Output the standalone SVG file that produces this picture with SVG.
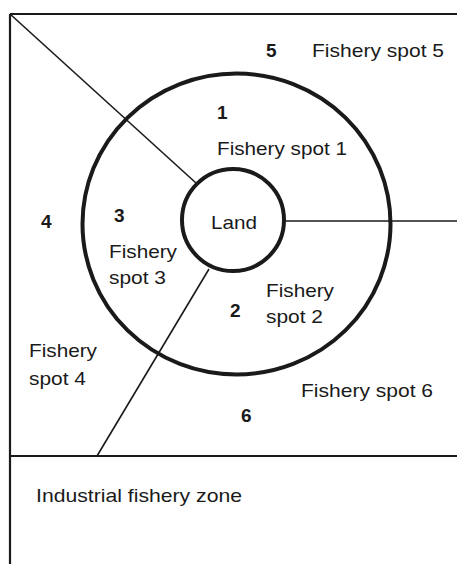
<svg xmlns="http://www.w3.org/2000/svg" width="457" height="564" viewBox="0 0 457 564">
<style>
.frame{fill:none;stroke:#1a1a1a;stroke-width:2.2}
.ring{fill:none;stroke:#1a1a1a;stroke-width:4}
.div{fill:none;stroke:#1a1a1a;stroke-width:1.6}
text{font-family:"Liberation Sans",Arial,sans-serif;font-size:19px;fill:#1a1a1a}
.num{font-weight:bold}
</style>
<rect width="457" height="564" fill="#ffffff"/>
<g id="frame">
<path class="frame" d="M10 14 H457 M10 14 V564 M10 456 H457"/>
</g>
<g id="connectors">
<line class="div" x1="10" y1="14" x2="196" y2="183"/>
<line class="div" x1="284" y1="221" x2="457" y2="221"/>
<line class="div" x1="209" y1="269" x2="97" y2="456"/>
</g>
<g id="outer-ring">
<ellipse class="ring" cx="236.5" cy="224" rx="154" ry="150.5"/>
</g>
<g id="land">
<circle class="ring" cx="233" cy="220" r="51"/>
<text x="211" y="229" textLength="46" lengthAdjust="spacingAndGlyphs">Land</text>
</g>
<g id="spot1">
<text class="num" x="217" y="119">1</text>
<text x="217" y="155" textLength="130" lengthAdjust="spacingAndGlyphs">Fishery spot 1</text>
</g>
<g id="spot2">
<text class="num" x="230" y="317">2</text>
<text x="266" y="297" textLength="68" lengthAdjust="spacingAndGlyphs">Fishery</text>
<text x="266" y="323" textLength="57" lengthAdjust="spacingAndGlyphs">spot 2</text>
</g>
<g id="spot3">
<text class="num" x="114" y="222">3</text>
<text x="109" y="258" textLength="68" lengthAdjust="spacingAndGlyphs">Fishery</text>
<text x="109" y="284" textLength="57" lengthAdjust="spacingAndGlyphs">spot 3</text>
</g>
<g id="spot4">
<text class="num" x="41" y="228">4</text>
<text x="29" y="357" textLength="68" lengthAdjust="spacingAndGlyphs">Fishery</text>
<text x="29" y="385" textLength="57" lengthAdjust="spacingAndGlyphs">spot 4</text>
</g>
<g id="spot5">
<text class="num" x="266" y="57">5</text>
<text x="312" y="57" textLength="132" lengthAdjust="spacingAndGlyphs">Fishery spot 5</text>
</g>
<g id="spot6">
<text class="num" x="241" y="422">6</text>
<text x="301" y="397" textLength="132" lengthAdjust="spacingAndGlyphs">Fishery spot 6</text>
</g>
<g id="industrial-zone">
<text x="36" y="502" textLength="206" lengthAdjust="spacingAndGlyphs">Industrial fishery zone</text>
</g>
</svg>
